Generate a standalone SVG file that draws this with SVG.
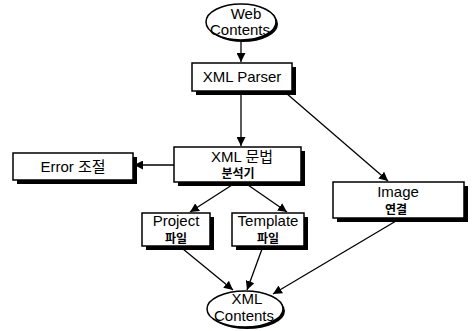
<svg xmlns="http://www.w3.org/2000/svg" width="472" height="331" viewBox="0 0 472 331">
<style>
.box{fill:#fff;stroke:#000;stroke-width:1.5}
.sh{fill:#000}
.t{font-family:"Liberation Sans","Noto Sans CJK KR",sans-serif;font-size:15px;fill:#000;text-anchor:middle}
.k{font-family:"Noto Sans CJK KR","Liberation Sans",sans-serif;font-size:12px;fill:#000;text-anchor:middle;font-weight:bold}
.c{stroke:#000;stroke-width:1.3;fill:none;marker-end:url(#a)}
</style>
<defs>
<marker id="a" viewBox="0 0 10 10" refX="10" refY="5" markerWidth="9" markerHeight="9" markerUnits="userSpaceOnUse" orient="auto">
<path d="M0,0 L10,5 L0,10 z" fill="#000"/>
</marker>
</defs>
<rect width="472" height="331" fill="#fff"/>
<g id="connectors">
<line class="c" x1="241" y1="41" x2="241" y2="62"/>
<line class="c" x1="241" y1="93" x2="241" y2="146"/>
<line class="c" x1="286" y1="93" x2="388" y2="181"/>
<line class="c" x1="174" y1="165" x2="134" y2="165"/>
<line class="c" x1="232" y1="185" x2="190" y2="212"/>
<line class="c" x1="248" y1="185" x2="287" y2="212"/>
<line class="c" x1="183" y1="249" x2="233" y2="290"/>
<line class="c" x1="262" y1="249" x2="247" y2="290"/>
<line class="c" x1="396" y1="221" x2="273" y2="294"/>
</g>
<g id="web">
<ellipse cx="243" cy="24" rx="35" ry="18" fill="#000"/>
<ellipse cx="241" cy="22" rx="35" ry="18" class="box"/>
<text class="t" x="246" y="19">Web</text>
<text class="t" x="240" y="35">Contents</text>
</g>
<g id="parser">
<rect x="196" y="67" width="100" height="28" class="sh"/>
<rect x="192" y="63" width="100" height="28" class="box"/>
<text class="t" x="242" y="82">XML Parser</text>
</g>
<g id="analyzer">
<rect x="178" y="151" width="127" height="35" class="sh"/>
<rect x="174" y="147" width="127" height="35" class="box"/>
<text class="t" x="242" y="162">XML 문법</text>
<text class="k" x="238" y="178">분석기</text>
</g>
<g id="error">
<rect x="17" y="157" width="120" height="27" class="sh"/>
<rect x="13" y="153" width="120" height="27" class="box"/>
<text class="t" x="73" y="172">Error 조절</text>
</g>
<g id="image">
<rect x="337" y="186" width="131" height="36" class="sh"/>
<rect x="333" y="182" width="131" height="36" class="box"/>
<text class="t" x="398" y="197">Image</text>
<text class="k" x="396" y="214">연결</text>
</g>
<g id="project">
<rect x="146" y="217" width="68" height="33" class="sh"/>
<rect x="142" y="213" width="68" height="33" class="box"/>
<text class="t" x="176" y="226">Project</text>
<text class="k" x="176" y="243">파일</text>
</g>
<g id="template">
<rect x="236" y="217" width="72" height="33" class="sh"/>
<rect x="232" y="213" width="72" height="33" class="box"/>
<text class="t" x="268" y="226">Template</text>
<text class="k" x="268" y="243">파일</text>
</g>
<g id="xmlcontents">
<ellipse cx="247" cy="311" rx="38" ry="18" fill="#000"/>
<ellipse cx="245" cy="309" rx="38" ry="18" class="box"/>
<text class="t" x="247" y="304">XML</text>
<text class="t" x="244" y="321">Contents</text>
</g>
</svg>
